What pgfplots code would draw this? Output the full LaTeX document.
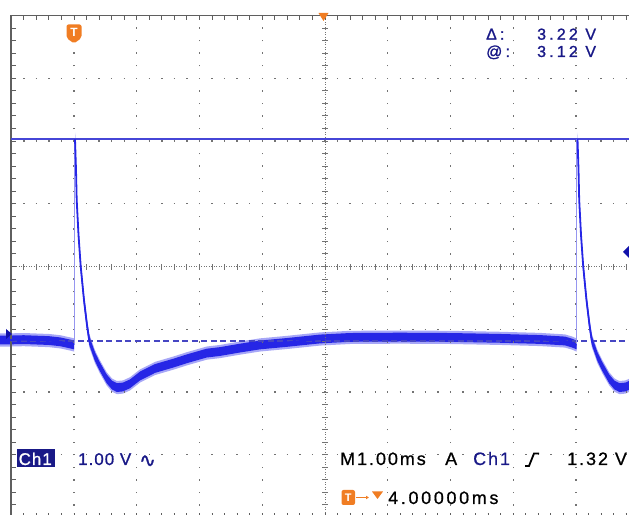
\documentclass[border=0pt]{standalone}
\usepackage{pgfplots}
\pgfplotsset{compat=1.18}
\usepackage{pgfplotstable}
\usepgfplotslibrary{fillbetween}
\usetikzlibrary{arrows.meta}
\usepackage{fontspec}
\setmainfont{Liberation Sans}
\newfontfamily\dv[FakeBold=1]{DejaVu Sans}
\newfontfamily\wideA[LetterSpace=20,FakeBold=1.2]{Liberation Sans}
\newfontfamily\wideB[LetterSpace=11,FakeBold=0.8]{Liberation Sans}
\newfontfamily\wideD[LetterSpace=15,FakeBold=0.8]{Liberation Sans}
\newfontfamily\wideC[LetterSpace=6,FakeBold=1]{Liberation Sans}

\definecolor{gridgray}{RGB}{115,115,115}
\definecolor{bordergray}{RGB}{95,95,95}
\definecolor{trace}{RGB}{38,38,230}
\definecolor{halo}{RGB}{95,95,240}
\definecolor{edge}{RGB}{150,150,240}
\definecolor{cursorA}{RGB}{70,70,215}
\definecolor{cursorB}{RGB}{70,70,195}
\definecolor{navy}{RGB}{25,25,135}
\definecolor{torange}{RGB}{240,125,35}

% time in ms (0 = trigger), voltage in V
\pgfplotstableread{
t v
-1.20 -0.080
-1.00 -0.080
-0.80 -0.075
-0.54 -0.085
-0.40 -0.090
-0.22 -0.110
-0.06 -0.145
0.00 -0.160
}\segA

\pgfplotstableread{
t v
0.016 3.12
0.032 2.63
0.043 2.15
0.072 1.59
0.107 1.09
0.159 0.556
0.207 0.158
0.244 -0.09
0.335 -0.35
0.414 -0.51
0.521 -0.70
0.606 -0.80
0.685 -0.84
0.781 -0.83
0.892 -0.78
1.052 -0.655
1.291 -0.535
1.582 -0.45
1.801 -0.38
2.115 -0.29
2.327 -0.265
2.645 -0.21
2.964 -0.16
3.394 -0.12
3.920 -0.065
4.398 -0.04
5.195 -0.035
5.992 -0.04
6.789 -0.055
7.426 -0.073
7.825 -0.097
7.936 -0.13
8.008 -0.16
}\segB

\pgfplotstableread{
t v
8.024 3.12
8.040 2.63
8.051 2.15
8.080 1.59
8.115 1.09
8.167 0.556
8.215 0.158
8.252 -0.09
8.343 -0.35
8.422 -0.51
8.529 -0.70
8.614 -0.80
8.693 -0.84
8.789 -0.83
8.900 -0.78
}\segC

\tikzset{
  gdot/.style={draw=gridgray,line width=1.4bp,dash pattern=on 1.4bp off 11.15bp,dash phase=0.7bp},
  cdot/.style={draw=gridgray,line width=0.8bp,dash pattern=on 1bp off 1.5bp},
  ctick/.style={draw=gridgray,line width=6bp,dash pattern=on 1bp off 11.55bp,dash phase=0.5bp},
  btick/.style={draw=bordergray,line width=4bp,dash pattern=on 1bp off 11.55bp,dash phase=0.5bp},
  bline/.style={draw=bordergray,line width=1.8bp},
}

\begin{document}
\begin{tikzpicture}
\begin{axis}[
  width=629bp, height=515bp, scale only axis,
  xmin=-1.1793, xmax=8.8446, ymin=-2.870, ymax=5.337,
  axis lines=none, xtick=\empty, ytick=\empty, clip=true,
]
% ---- graticule ----
\pgfplotsinvokeforeach{0,1,2,3,5,6,7,8}{
  \draw[gdot] (axis cs:#1,-2.91) -- (axis cs:#1,5.09);
}
\pgfplotsinvokeforeach{-1.91,-0.91,0.09,2.09,3.09,4.09}{
  \draw[gdot] (axis cs:-1,#1) -- (axis cs:9,#1);
}
\draw[cdot] (axis cs:4,-2.91) -- (axis cs:4,5.09);
\draw[cdot] (axis cs:-1,1.09) -- (axis cs:9,1.09);
\draw[ctick] (axis cs:4,-2.91) -- (axis cs:4,5.09);
\draw[ctick] (axis cs:-1,1.09) -- (axis cs:9,1.09);
% border
\draw[bline] (axis cs:-1,-2.91) rectangle (axis cs:9,5.09);
\draw[btick] ([xshift=2.5bp]axis cs:-1,-2.91) -- ([xshift=2.5bp]axis cs:-1,5.09);
\draw[btick] ([yshift=-2.5bp]axis cs:-1,5.09) -- ([yshift=-2.5bp]axis cs:9,5.09);
\draw[btick] ([yshift=2.5bp]axis cs:-1,-2.91) -- ([yshift=2.5bp]axis cs:9,-2.91);

% ---- cursors ----
\addplot[cursorA, line width=1.3bp] coordinates {(-1,3.12) (9,3.12)};
\addplot[cursorB, line width=1.7bp, dash pattern=on 6bp off 3.5bp] coordinates {(-1,-0.10) (9,-0.10)};

% ---- trace ----
\addplot[edge, line width=1bp] coordinates {(0,-0.16) (0,3.12)};
\addplot[edge, line width=1bp] coordinates {(8.008,-0.16) (8.008,3.12)};

\addplot[draw=none, name path=Au] table[x=t, y expr=\thisrow{v}+0.105] {\segA};
\addplot[draw=none, name path=Al] table[x=t, y expr=\thisrow{v}-0.105] {\segA};
\addplot[draw=none, name path=Bu] table[x=t, y expr=\thisrow{v}+0.105] {\segB};
\addplot[draw=none, name path=Bl] table[x=t, y expr=\thisrow{v}-0.105] {\segB};
\addplot[draw=none, name path=Cu] table[x=t, y expr=\thisrow{v}+0.105] {\segC};
\addplot[draw=none, name path=Cl] table[x=t, y expr=\thisrow{v}-0.105] {\segC};
\addplot[fill=halo, draw=none, opacity=0.55] fill between[of=Au and Al];
\addplot[fill=halo, draw=none, opacity=0.55] fill between[of=Bu and Bl];
\addplot[fill=halo, draw=none, opacity=0.55] fill between[of=Cu and Cl];

\addplot[draw=none, name path=au] table[x=t, y expr=\thisrow{v}+0.07] {\segA};
\addplot[draw=none, name path=al] table[x=t, y expr=\thisrow{v}-0.07] {\segA};
\addplot[draw=none, name path=bu] table[x=t, y expr=\thisrow{v}+0.07] {\segB};
\addplot[draw=none, name path=bl] table[x=t, y expr=\thisrow{v}-0.07] {\segB};
\addplot[draw=none, name path=cu] table[x=t, y expr=\thisrow{v}+0.07] {\segC};
\addplot[draw=none, name path=cl] table[x=t, y expr=\thisrow{v}-0.07] {\segC};
\addplot[fill=trace, draw=none] fill between[of=au and al];
\addplot[fill=trace, draw=none] fill between[of=bu and bl];
\addplot[fill=trace, draw=none] fill between[of=cu and cl];

\addplot[trace, line width=1.8bp] table[x=t, y=v] {\segA};
\addplot[trace, line width=1.8bp] table[x=t, y=v] {\segB};
\addplot[trace, line width=1.8bp] table[x=t, y=v] {\segC};

\coordinate (NW) at (rel axis cs:0,1);
\coordinate (SW) at (rel axis cs:0,0);
\coordinate (NE) at (rel axis cs:1,1);
\end{axis}

% ---- screen annotations (pixel coordinates, y downwards) ----
\begin{scope}[shift={(NW)}, x=1bp, y=-1bp]
\clip (0,0) rectangle (629,515);
% trigger position marker (top)
\fill[torange, rounded corners=2bp] (66.5,24.5) -- (81.5,24.5) -- (81.5,38) -- (74,43.5) -- (66.5,38) -- cycle;
\node[text=white, font=\bfseries\fontsize{12}{12}\selectfont, inner sep=0] at (74,32.5) {T};
% center marker
\fill[torange] (318.5,13) -- (328.5,13) -- (323.5,21) -- cycle;
% trigger level marker (right)
\fill[navy!70!blue] (629,246) -- (635,252) -- (629,258) -- (623,252) -- cycle;
% ground marker (left)
\fill[navy!70!blue] (6,329) -- (12,334) -- (6,339) -- cycle;

% cursor readout
\begin{scope}[every node/.style={anchor=base west, inner sep=0, text=navy, font=\wideA\fontsize{16}{16}\selectfont}]
\node at (486,39.7) {Δ:};
\node at (537,39.7) {3.22 V};
\node at (486,57) {@:};
\node at (537,57) {3.12 V};
\end{scope}

% bottom status line
\fill[navy] (16.5,449.5) rectangle (55,467.5);
\node[anchor=base west, inner sep=0, text=white, font=\wideC\fontsize{17}{17}\selectfont] at (18.5,465) {Ch1};
\node[anchor=base west, inner sep=0, text=navy, font=\wideC\fontsize{17}{17}\selectfont] at (78,465) {1.00 V};
\node[anchor=base west, inner sep=0, text=navy, font=\dv\fontsize{20}{20}\selectfont] at (139,467) {∿};
\begin{scope}[every node/.style={anchor=base west, inner sep=0, text=black, font=\wideB\fontsize{18}{18}\selectfont}]
\node at (340,465) {M1.00ms};
\node at (445,465) {A};
\node[text=navy] at (473,465) {Ch1};
\node at (567,465) {1.32 V};
\node[font=\wideD\fontsize{18}{18}\selectfont] at (388,504) {4.00000ms};
\end{scope}
\draw[black, line width=1.8bp] (525,466) -- (529,466) -- (534,453.5) -- (539,453.5);
% trigger-position readout icon
\fill[torange, rounded corners=2bp] (341.5,490) rectangle (355,505);
\node[text=white, font=\bfseries\fontsize{11}{11}\selectfont, inner sep=0] at (348.3,497.5) {T};
\draw[torange, line width=1.6bp, -{Latex[length=3bp,width=4bp]}] (356,497.5) -- (369,497.5);
\fill[torange] (372,491.5) -- (383,491.5) -- (377.5,499) -- cycle;
\end{scope}

\pgfresetboundingbox
\path[use as bounding box] (SW) rectangle (NE);
\end{tikzpicture}
\end{document}
